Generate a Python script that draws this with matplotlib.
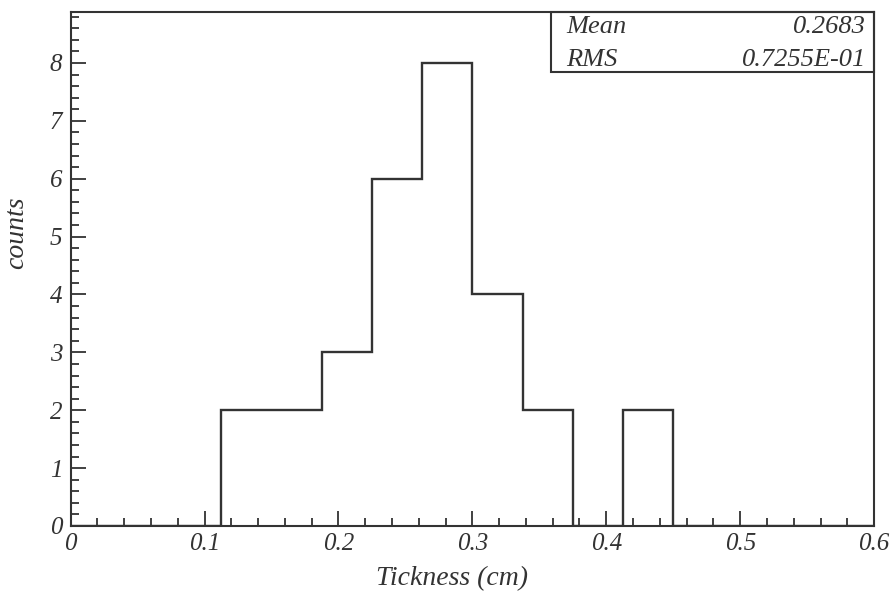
import numpy as np
import matplotlib
matplotlib.use("Agg")
import matplotlib.pyplot as plt
from matplotlib.ticker import MultipleLocator, FuncFormatter
from matplotlib.patches import Rectangle

# histogram: 16 bins of 0.0375 cm between 0 and 0.6
bin_edges = np.linspace(0.0, 0.6, 17)
bin_counts = [0, 0, 0, 2, 2, 3, 6, 8, 4, 2, 0, 2, 0, 0, 0, 0]

x_label = "Tickness (cm)"
y_label = "counts"

INK = "#333333"
plt.rcParams["font.family"] = ["Liberation Serif", "DejaVu Serif"]
plt.rcParams["font.style"] = "italic"

fig = plt.figure(figsize=(8.9, 5.92), dpi=100)
ax = fig.add_axes([0.0794, 0.1115, 0.9027, 0.8682])

ax.stairs(bin_counts, bin_edges, color=INK, linewidth=1.7)

ax.set_xlim(0, 0.6)
ax.set_ylim(0, 8.88)

ax.xaxis.set_major_locator(MultipleLocator(0.1))
ax.xaxis.set_minor_locator(MultipleLocator(0.02))
ax.yaxis.set_major_locator(MultipleLocator(1))
ax.yaxis.set_minor_locator(MultipleLocator(0.2))
ax.xaxis.set_major_formatter(FuncFormatter(lambda v, p: "0" if abs(v) < 1e-9 else f"{v:.1f}"))
ax.yaxis.set_major_formatter(FuncFormatter(lambda v, p: f"{v:.0f}"))

ax.tick_params(axis="x", which="major", direction="in", length=11, width=1.3,
               color=INK, labelsize=18, labelcolor=INK, pad=5)
ax.tick_params(axis="x", which="minor", direction="in", length=5.5, width=1.3, color=INK)
ax.tick_params(axis="y", which="major", direction="in", length=11, width=1.3,
               color=INK, labelsize=18, labelcolor=INK, pad=6)
ax.tick_params(axis="y", which="minor", direction="in", length=5.5, width=1.3, color=INK)

for s in ax.spines.values():
    s.set_color(INK)
    s.set_linewidth(1.5)

ax.set_xlabel(x_label, fontsize=20, color=INK)
ax.set_ylabel(y_label, fontsize=20, color=INK)
ax.xaxis.set_label_coords(0.4746, -0.078)
ax.yaxis.set_label_coords(-0.052, 0.57)

# statistics box computed from the bin centres
centres = 0.5 * (bin_edges[:-1] + bin_edges[1:])
w = np.array(bin_counts, dtype=float)
mean = np.sum(centres * w) / w.sum()
rms = np.sqrt(np.sum(w * (centres - mean) ** 2) / w.sum())


def fortran_e(v):
    exp = int(np.floor(np.log10(abs(v)))) + 1
    return f"{v / 10 ** exp:.4f}E{exp:+03d}"


box_left = 0.5975
box_bottom = 0.883
ax.add_patch(Rectangle((box_left, box_bottom), 1 - box_left, 1 - box_bottom,
                       transform=ax.transAxes, fill=False, edgecolor=INK,
                       linewidth=1.5, clip_on=False))
rows = [("Mean", f"{mean:.4f}"), ("RMS", fortran_e(rms))]
for i, (name, val) in enumerate(rows):
    y = 0.971 - i * 0.0644
    ax.text(box_left + 0.019, y, name, transform=ax.transAxes, fontsize=19,
            color=INK, va="center", ha="left")
    ax.text(0.99, y, val, transform=ax.transAxes, fontsize=19,
            color=INK, va="center", ha="right")

fig.savefig("out.png", dpi=100)
